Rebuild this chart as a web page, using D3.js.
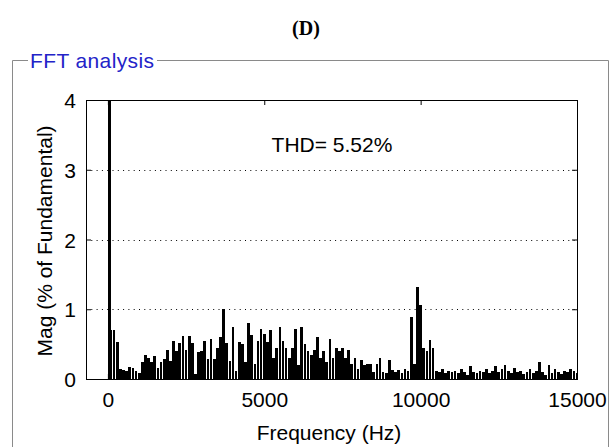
<!DOCTYPE html>
<html>
<head>
<meta charset="utf-8">
<script src="https://cdn.jsdelivr.net/npm/d3@7"></script>
<style>
	body { margin: 0; background: #fff; }
	svg { display: block; }
	.tick text { font-family: "Liberation Sans", Arial, sans-serif; font-size: 21px; fill: #000; }
	.axis path, .axis line { stroke: #000; }
</style>
</head>
<body>
<div id="chart"></div>
<script>
//fundamental (clipped, off the scale)
let fundFreq = 50;
let fundMag = 100;

//harmonic bins, 100 Hz step, from 100 Hz to 15000 Hz
let binStep = 100;
let magValues = [
	0.70, 0.70, 0.53, 0.15, 0.13, 0.12, 0.17, 0.16, 0.12, 0.08,
	0.25, 0.35, 0.30, 0.25, 0.33, 0.16, 0.25, 0.28, 0.42, 0.26,
	0.55, 0.40, 0.52, 0.62, 0.42, 0.62, 0.52, 0.07, 0.38, 0.40,
	0.55, 0.28, 0.58, 0.28, 0.45, 0.60, 1.00, 0.52, 0.26, 0.74,
	0.12, 0.53, 0.50, 0.24, 0.80, 0.63, 0.22, 0.55, 0.72, 0.65,
	0.53, 0.70, 0.30, 0.45, 0.75, 0.55, 0.45, 0.30, 0.45, 0.72,
	0.20, 0.75, 0.50, 0.40, 0.35, 0.42, 0.60, 0.30, 0.40, 0.25,
	0.57, 0.30, 0.45, 0.40, 0.45, 0.30, 0.42, 0.22, 0.30, 0.15,
	0.27, 0.20, 0.22, 0.22, 0.10, 0.22, 0.30, 0.10, 0.08, 0.27,
	0.13, 0.10, 0.13, 0.08, 0.15, 0.12, 0.89, 0.22, 1.32, 1.06,
	0.45, 0.40, 0.56, 0.45, 0.12, 0.10, 0.14, 0.08, 0.12, 0.10,
	0.12, 0.08, 0.15, 0.10, 0.06, 0.19, 0.10, 0.08, 0.12, 0.10,
	0.15, 0.08, 0.12, 0.18, 0.10, 0.14, 0.20, 0.12, 0.08, 0.16,
	0.10, 0.12, 0.07, 0.10, 0.14, 0.08, 0.12, 0.24, 0.10, 0.06,
	0.20, 0.08, 0.15, 0.10, 0.07, 0.12, 0.10, 0.14, 0.12, 0.08
];

//tick labels
let xTicks = [0, 5000, 10000, 15000];
let yTicks = [0, 1, 2, 3, 4];
let gridTicks = [1, 2, 3];

let titleText = "(D)";
let panelText = "FFT analysis";
let thdText = "THD= 5.52%";
let xLabel = "Frequency (Hz)";
let yLabel = "Mag (% of Fundamental)";

function drawChart(){

	let width = 611;
	let height = 447;
	let plot = {left: 86, right: 577, top: 100, bottom: 379};

	let svg = d3.select("#chart")
		.append("svg")
		.attr("width", width)
		.attr("height", height);

	let fontFam = "'Liberation Sans', Arial, sans-serif";

	//title
	svg.append("text")
		.attr("x", 306)
		.attr("y", 35)
		.attr("text-anchor", "middle")
		.style("font-family", "'Liberation Serif', 'Times New Roman', serif")
		.style("font-weight", "bold")
		.style("font-size", "20px")
		.text(titleText);

	//group box (etched look)
	let boxPath = "M28,60.5 H12.5 V460 M157,60.5 H608.5 V460";
	svg.append("path")
		.attr("d", boxPath)
		.attr("fill", "none")
		.attr("stroke", "#fff")
		.attr("transform", "translate(1,1)");
	svg.append("path")
		.attr("d", boxPath)
		.attr("fill", "none")
		.attr("stroke", "#8a8a8a");

	svg.append("text")
		.attr("x", 30)
		.attr("y", 68)
		.style("font-family", fontFam)
		.style("font-size", "21px")
		.attr("textLength", 124)
		.attr("fill", "#2323c8")
		.text(panelText);

	//scales
	const xScale = d3.scaleLinear()
		.domain([-700, 15000])
		.range([plot.left, plot.right]);

	const yScale = d3.scaleLinear()
		.domain([0, 4])
		.range([plot.bottom, plot.top]);

	//data rows
	let bars = [{f: fundFreq, m: fundMag}];
	magValues.forEach((v, i) => {
		bars.push({f: (i + 1) * binStep, m: v});
	});

	//grid
	svg.append("g")
		.selectAll("line")
		.data(gridTicks)
		.enter()
		.append("line")
		.attr("x1", plot.left)
		.attr("x2", plot.right)
		.attr("y1", (d) => Math.round(yScale(d)) + 0.5)
		.attr("y2", (d) => Math.round(yScale(d)) + 0.5)
		.attr("stroke", "#000")
		.attr("stroke-dasharray", "1,4.3");

	//bars
	svg.append("clipPath")
		.attr("id", "plot-clip")
		.append("rect")
		.attr("x", plot.left)
		.attr("y", plot.top)
		.attr("width", plot.right - plot.left)
		.attr("height", plot.bottom - plot.top);

	let barW = (xScale(binStep) - xScale(0)) * 0.86;

	svg.append("g")
		.attr("clip-path", "url(#plot-clip)")
		.attr("shape-rendering", "crispEdges")
		.selectAll("rect")
		.data(bars)
		.enter()
		.append("rect")
		.attr("x", (d) => xScale(d.f) - barW / 2)
		.attr("width", barW)
		.attr("y", (d) => yScale(d.m))
		.attr("height", (d) => yScale(0) - yScale(d.m))
		.attr("fill", "#000");

	//axes, ticks pointing inward
	let fmt = d3.format("d");
	let xAxis = d3.axisBottom(xScale).tickValues(xTicks).tickFormat(fmt).tickSize(-5).tickPadding(9).tickSizeOuter(0);
	let yAxis = d3.axisLeft(yScale).tickValues(yTicks).tickFormat(fmt).tickSize(-5).tickPadding(10).tickSizeOuter(0);

	svg.append("g")
		.attr("class", "axis x_axis")
		.attr("transform", `translate(0,${plot.bottom})`)
		.call(xAxis);

	svg.append("g")
		.attr("class", "axis y_axis")
		.attr("transform", `translate(${plot.left},0)`)
		.call(yAxis);

	svg.append("g")
		.attr("class", "axis")
		.attr("transform", `translate(0,${plot.top})`)
		.call(d3.axisTop(xScale).tickValues(xTicks).tickSize(-5).tickSizeOuter(0).tickFormat(""));

	svg.append("g")
		.attr("class", "axis")
		.attr("transform", `translate(${plot.right},0)`)
		.call(d3.axisRight(yScale).tickValues(yTicks).tickSize(-5).tickSizeOuter(0).tickFormat(""));

	svg.selectAll(".x_axis .tick text").attr("dy", "0.9em");
	svg.selectAll(".y_axis .tick text").attr("dy", "0.36em");

	//frame
	svg.append("rect")
		.attr("x", plot.left + 0.5)
		.attr("y", plot.top + 0.5)
		.attr("width", plot.right - plot.left)
		.attr("height", plot.bottom - plot.top)
		.attr("fill", "none")
		.attr("stroke", "#000");

	//labels
	svg.append("text")
		.attr("x", 332)
		.attr("y", 152)
		.attr("text-anchor", "middle")
		.style("font-family", fontFam)
		.style("font-size", "21px")
		.text(thdText);

	svg.append("text")
		.attr("x", 329)
		.attr("y", 440)
		.attr("text-anchor", "middle")
		.style("font-family", fontFam)
		.style("font-size", "21px")
		.text(xLabel);

	svg.append("text")
		.attr("transform", "translate(52,241) rotate(-90)")
		.attr("text-anchor", "middle")
		.style("font-family", fontFam)
		.style("font-size", "21px")
		.text(yLabel);

} //function drawChart

drawChart();
</script>
</body>
</html>
